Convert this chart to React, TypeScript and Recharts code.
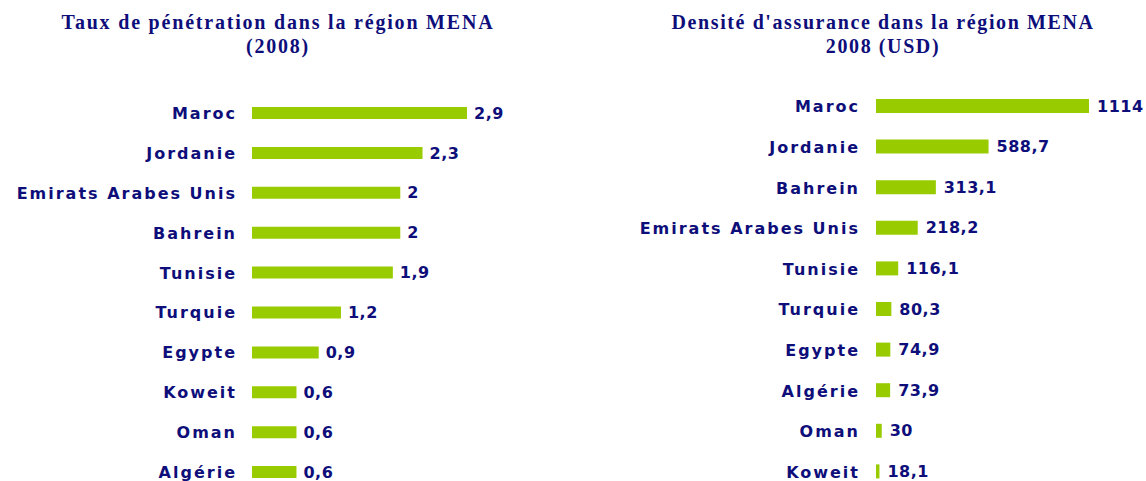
import React from "react";
import { BarChart, Bar, XAxis, YAxis, LabelList } from "recharts";

// Taux de pénétration (%), 2008
const penetrationCountries = [
  "Maroc", "Jordanie", "Emirats Arabes Unis", "Bahrein", "Tunisie",
  "Turquie", "Egypte", "Koweit", "Oman", "Algérie",
];
const penetrationValues = [2.9, 2.3, 2, 2, 1.9, 1.2, 0.9, 0.6, 0.6, 0.6];

// Densité d'assurance (USD), 2008
const densityCountries = [
  "Maroc", "Jordanie", "Bahrein", "Emirats Arabes Unis", "Tunisie",
  "Turquie", "Egypte", "Algérie", "Oman", "Koweit",
];
const densityValues = [1114, 588.7, 313.1, 218.2, 116.1, 80.3, 74.9, 73.9, 30, 18.1];

const penetrationData = penetrationCountries.map((name, i) => ({ name, value: penetrationValues[i] }));
const densityData = densityCountries.map((name, i) => ({ name, value: densityValues[i] }));

const GREEN = "#99CC00";
const NAVY = "#0E0E7A";

const textStyle = {
  fontFamily: "'DejaVu Sans', Arial, sans-serif",
  fontWeight: 700,
  fontSize: 16,
  letterSpacing: 2,
};

const valueStyle = { ...textStyle, letterSpacing: 0.5 };

const fmt = (v: any) => String(v).replace(".", ",");

const CountryTick = (props: any) => {
  const { x, y, payload } = props;
  return (
    <text x={x} y={y} dy={6} textAnchor="end" fill={NAVY} style={textStyle}>
      {payload.value}
    </text>
  );
};

const titleStyle: React.CSSProperties = {
  position: "absolute",
  width: 560,
  textAlign: "center",
  fontFamily: "'Liberation Serif', 'Times New Roman', serif",
  fontWeight: 700,
  fontSize: 20,
  lineHeight: "24px",
  letterSpacing: 1.6,
  color: NAVY,
};

export default function App() {
  return (
    <div style={{ position: "absolute", left: 0, top: 0, width: 1146, height: 481, overflow: "hidden", background: "#fff" }}>
      <div style={{ ...titleStyle, left: -2, top: 10, letterSpacing: 1.8 }}>
        Taux de pénétration dans la région MENA
        <br />
        (2008)
      </div>
      <div style={{ ...titleStyle, left: 603, top: 10 }}>
        Densité d'assurance dans la région MENA
        <br />
        2008 (USD)
      </div>

      <div style={{ position: "absolute", left: 0, top: 0 }}>
        <BarChart
          width={527}
          height={492}
          data={penetrationData}
          layout="vertical"
          margin={{ top: 93, right: 60, bottom: 0, left: 0 }}
        >
          <XAxis type="number" domain={[0, "dataMax"]} hide />
          <YAxis
            type="category"
            dataKey="name"
            width={252}
            axisLine={false}
            tickLine={false}
            tickSize={0}
            tickMargin={15}
            interval={0}
            tick={<CountryTick />}
          />
          <Bar dataKey="value" fill={GREEN} barSize={12} isAnimationActive={false}>
            <LabelList dataKey="value" position="right" offset={7} formatter={fmt} fill={NAVY} style={valueStyle} />
          </Bar>
        </BarChart>
      </div>

      <div style={{ position: "absolute", left: 600, top: 0 }}>
        <BarChart
          width={546}
          height={492}
          data={densityData}
          layout="vertical"
          margin={{ top: 86, right: 57, bottom: 0, left: 0 }}
        >
          <XAxis type="number" domain={[0, "dataMax"]} hide />
          <YAxis
            type="category"
            dataKey="name"
            width={276}
            axisLine={false}
            tickLine={false}
            tickSize={0}
            tickMargin={16}
            interval={0}
            tick={<CountryTick />}
          />
          <Bar dataKey="value" fill={GREEN} barSize={14} isAnimationActive={false}>
            <LabelList dataKey="value" position="right" offset={8} formatter={fmt} fill={NAVY} style={valueStyle} />
          </Bar>
        </BarChart>
      </div>
    </div>
  );
}
